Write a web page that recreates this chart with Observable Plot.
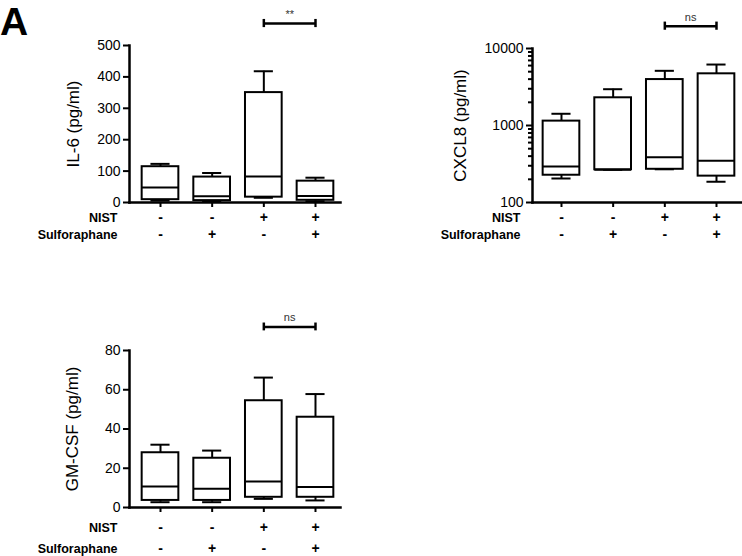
<!DOCTYPE html>
<html><head><meta charset="utf-8">
<script src="https://cdn.jsdelivr.net/npm/d3@7"></script>
<script src="https://cdn.jsdelivr.net/npm/@observablehq/plot@0.6"></script>
<style>
body{margin:0;background:#fff;}
#fig{position:relative;width:742px;height:556px;overflow:hidden;background:#fff;font-family:"Liberation Sans",Arial,sans-serif;}
.panel{position:absolute;}
#letter{position:absolute;left:0;top:0px;font-size:39px;font-weight:bold;line-height:44px;color:#000;}
</style></head><body>
<div id="fig"><div id="letter">A</div></div>
<script>
// ---- data ----
const positions = [1, 2, 3, 4];
const nist = ["-", "-", "+", "+"];
const sulforaphane = ["-", "+", "-", "+"];
const rowLabels = ["NIST", "Sulforaphane"];

// IL-6 (pg/ml): whisker low, Q1, median, Q3, whisker high
const il6Min = [6, 3, 15, 4];
const il6Q1 = [9, 6, 17, 7];
const il6Med = [48, 20, 83, 21];
const il6Q3 = [114, 81, 350, 68];
const il6Max = [123, 94, 418, 79];
const il6Ticks = [0, 100, 200, 300, 400, 500];

// CXCL8 (pg/ml), log axis
const cxclMin = [205, 266, 270, 186];
const cxclQ1 = [226, 266, 270, 220];
const cxclMed = [294, 266, 387, 348];
const cxclQ3 = [1140, 2290, 3950, 4690];
const cxclMax = [1420, 2960, 5130, 6190];
const cxclTicks = [100, 1000, 10000];
const cxclMinor = [200, 300, 400, 500, 600, 700, 800, 900, 2000, 3000, 4000, 5000, 6000, 7000, 8000, 9000];

// GM-CSF (pg/ml)
const gmMin = [2.7, 2.7, 4.4, 3.6];
const gmQ1 = [3.6, 3.6, 5.2, 5.2];
const gmMed = [10.7, 9.5, 13.2, 10.5];
const gmQ3 = [27.9, 25.1, 54.4, 46];
const gmMax = [32, 29, 66.2, 57.8];
const gmTicks = [0, 20, 40, 60, 80];

// significance brackets (between conditions 3 and 4)
const il6Sig = {from: 3, to: 4, label: "**", y: 570};
const cxclSig = {from: 3, to: 4, label: "ns", y: 19500};
const gmSig = {from: 3, to: 4, label: "ns", y: 92};

const font = '"Liberation Sans", Arial, sans-serif';

function panel(cfg) {
  const data = positions.map((p, i) => ({
    pos: p, min: cfg.min[i], q1: cfg.q1[i], med: cfg.med[i], q3: cfg.q3[i], max: cfg.max[i]
  }));
  const half = 0.355, cap = 0.185;
  const sig = cfg.sig;
  const capLo = cfg.log ? sig.y / 1.13 : sig.y - cfg.capSpan;
  const capHi = cfg.log ? sig.y * 1.13 : sig.y + cfg.capSpan;
  const marks = [
    Plot.ruleX(data, {x: "pos", y1: "q3", y2: "max", strokeWidth: 2}),
    Plot.ruleY(data, {y: "max", x1: d => d.pos - cap, x2: d => d.pos + cap, strokeWidth: 2}),
    Plot.ruleX(data, {x: "pos", y1: "min", y2: "q1", strokeWidth: 2}),
    Plot.ruleY(data, {y: "min", x1: d => d.pos - cap, x2: d => d.pos + cap, strokeWidth: 2}),
    Plot.rect(data, {x1: d => d.pos - half, x2: d => d.pos + half, y1: "q1", y2: "q3", fill: "white", stroke: "black", strokeWidth: 2}),
    Plot.ruleY(data, {y: "med", x1: d => d.pos - half, x2: d => d.pos + half, strokeWidth: 2}),
    Plot.axisY(cfg.ticks, {tickSize: 6, tickPadding: 3, strokeWidth: 2, fontSize: 14, label: null, tickFormat: d3.format("d")}),
  ];
  if (cfg.minor) marks.push(Plot.axisY(cfg.minor, {tickSize: 4, strokeWidth: 2, label: null, tickFormat: () => ""}));
  const rowText = {frameAnchor: "bottom", lineAnchor: "middle", textAnchor: "middle", fontWeight: "bold", fontSize: 14};
  const rowLabel = {frameAnchor: "bottom-left", lineAnchor: "middle", textAnchor: "end", dx: -12, fontWeight: "bold", fontSize: 12.5};
  const ymid = cfg.log ? Math.sqrt(cfg.ydomain[0] * cfg.ydomain[1]) : (cfg.ydomain[0] + cfg.ydomain[1]) / 2;
  marks.push(
    Plot.axisX(positions, {tickSize: 5, strokeWidth: 2, label: null, tickFormat: () => ""}),
    Plot.frame({anchor: "left", strokeWidth: 2.5}),
    Plot.frame({anchor: "bottom", strokeWidth: 2.5}),
    Plot.text(positions, {...rowText, x: d => d, text: (d, i) => nist[i], dy: cfg.row1}),
    Plot.text(positions, {...rowText, x: d => d, text: (d, i) => sulforaphane[i], dy: cfg.row2}),
    Plot.text([rowLabels[0]], {...rowLabel, text: d => d, dy: cfg.row1}),
    Plot.text([rowLabels[1]], {...rowLabel, text: d => d, dy: cfg.row2}),
    Plot.text([cfg.label], {text: d => d, y: () => ymid, frameAnchor: "left", textAnchor: "middle", lineAnchor: "middle", rotate: -90, dx: cfg.labelDx, fontSize: 17}),
    Plot.ruleY([sig], {y: "y", x1: "from", x2: "to", strokeWidth: 2.5}),
    Plot.ruleX([sig.from, sig.to], {x: d => d, y1: capLo, y2: capHi, strokeWidth: 2.5}),
    Plot.text([sig], {x: d => (d.from + d.to) / 2, y: "y", text: "label", dy: -9, fontSize: 11, fill: "#333"})
  );
  const el = Plot.plot({
    width: cfg.width, height: cfg.height,
    marginLeft: cfg.ml, marginRight: cfg.mr, marginTop: cfg.mt, marginBottom: cfg.mb,
    x: {type: "linear", domain: cfg.xdomain, axis: null},
    y: {type: cfg.log ? "log" : "linear", domain: cfg.ydomain, axis: null},
    style: {fontFamily: font, fontSize: "14px", color: "black", background: "transparent", overflow: "visible"},
    marks
  });
  el.classList.add("panel");
  el.style.left = cfg.left + "px";
  el.style.top = cfg.top + "px";
  document.getElementById("fig").appendChild(el);
  return el;
}

panel({
  left: 0, top: 0, width: 345, height: 250, ml: 129, mr: 5, mt: 45, mb: 48,
  xdomain: [0.40, 4.484], ydomain: [0, 500], ticks: il6Ticks,
  min: il6Min, q1: il6Q1, med: il6Med, q3: il6Q3, max: il6Max,
  label: "IL-6 (pg/ml)", labelDx: -56, row1: 15, row2: 32, sig: il6Sig, capSpan: 13
});
panel({
  left: 380, top: 0, width: 362, height: 250, ml: 152, mr: 1, mt: 48, mb: 48,
  xdomain: [0.439, 4.484], ydomain: [100, 10000], log: true, ticks: cxclTicks, minor: cxclMinor,
  min: cxclMin, q1: cxclQ1, med: cxclMed, q3: cxclQ3, max: cxclMax,
  label: "CXCL8 (pg/ml)", labelDx: -72, row1: 15, row2: 32, sig: cxclSig
});
panel({
  left: 0, top: 300, width: 345, height: 256, ml: 129, mr: 5, mt: 50, mb: 49,
  xdomain: [0.40, 4.484], ydomain: [0, 80], ticks: gmTicks,
  min: gmMin, q1: gmQ1, med: gmMed, q3: gmQ3, max: gmMax,
  label: "GM-CSF (pg/ml)", labelDx: -57, row1: 20, row2: 41, sig: gmSig, capSpan: 2
});
</script>
</body></html>
